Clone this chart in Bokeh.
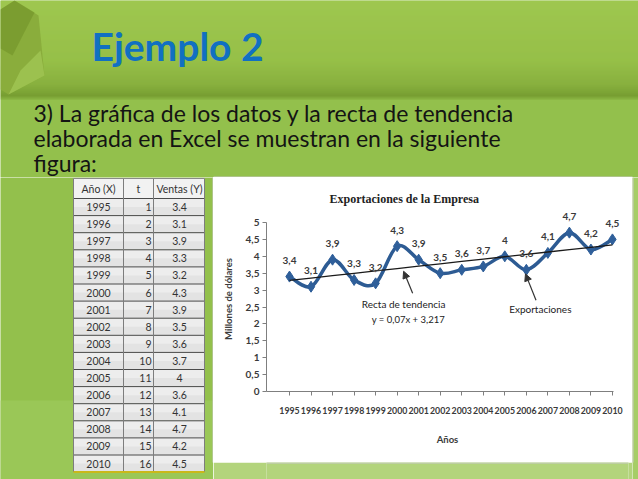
import numpy as np
from bokeh.plotting import figure
from bokeh.models import Range1d, FixedTicker, Label, Arrow, NormalHead, CustomJSTickFormatter
from bokeh.layouts import row, column
from bokeh.embed import file_html
from bokeh.resources import INLINE
from bokeh.core.properties import value

# ---------------- data ----------------
years = [1995, 1996, 1997, 1998, 1999, 2000, 2001, 2002,
         2003, 2004, 2005, 2006, 2007, 2008, 2009, 2010]
t_index = [1, 2, 3, 4, 5, 6, 7, 8, 9, 10, 11, 12, 13, 14, 15, 16]
ventas = [3.4, 3.1, 3.9, 3.3, 3.2, 4.3, 3.9, 3.5,
          3.6, 3.7, 4.0, 3.6, 4.1, 4.7, 4.2, 4.5]
y_ticks = [0, 0.5, 1, 1.5, 2, 2.5, 3, 3.5, 4, 4.5, 5]
trend_slope = 0.07
trend_intercept = 3.217
table_headers = ["Año (X)", "t", "Ventas (Y)"]
slide_title = "Ejemplo 2"
paragraph = ["3) La gráfica de los datos y la recta de tendencia",
             "elaborada en Excel se muestran en la siguiente",
             "figura:"]
chart_title = "Exportaciones de la Empresa"
x_title = "Años"
y_title = "Millones de dólares"
trend_note = ["Recta de tendencia", "y = 0,07x + 3,217"]
series_note = "Exportaciones"

BODY = "#93c04c"
FONT = "Lato"


def blank(w, h, x0, x1, y0, y1, bg):
    f = figure(width=w, height=h, x_range=Range1d(x0, x1), y_range=Range1d(y0, y1),
               output_backend="svg", toolbar_location=None, min_border=0,
               x_axis_location=None, y_axis_location=None)
    f.xgrid.visible = False
    f.ygrid.visible = False
    f.outline_line_color = None
    f.background_fill_color = bg
    f.border_fill_color = bg
    return f


def mix(c1, c2, a):
    c1 = np.array([int(c1[i:i + 2], 16) for i in (1, 3, 5)])
    c2 = np.array([int(c2[i:i + 2], 16) for i in (1, 3, 5)])
    c = (c1 + (c2 - c1) * a).round().astype(int)
    return "#%02x%02x%02x" % tuple(c)


# ---------------- header (banner + paragraph) ----------------
H_HEAD = 177
head = blank(638, H_HEAD, 0, 638, H_HEAD, 0, BODY)
stops = [(0, "#a2c951"), (60, "#97bf47"), (84, "#84aa3a"), (95, "#6f9229"), (99, "#8ab543")]
ys, cs = [], []
for (ya, ca), (yb, cb) in zip(stops[:-1], stops[1:]):
    n = max(int(yb - ya), 1)
    for k in range(n):
        ys.append(ya + (yb - ya) * k / n)
        cs.append(mix(ca, cb, k / n))
ys.append(99)
head.quad(left=0, right=638, top=ys[:-1], bottom=ys[1:], fill_color=cs, line_color=None)
# hexagon ornament
head.patch([0, 14, 38, 44, 8, 0], [9, 0, 15, 75, 94, 89], fill_color="#8aad3c", line_color=None)
head.patch([0, 14, 34, 12, 0], [9, 0, 12, 55, 48], fill_color="#6f8f27", line_color=None, fill_alpha=0.55)
head.patch([44, 8, 20, 40], [75, 94, 70, 50], fill_color="#a9cf5c", line_color=None, fill_alpha=0.6)
head.text(x=[91], y=[45], text=[slide_title], text_font=value(FONT),
          text_font_style="bold", text_font_size="39px", text_color="#1170c2",
          text_baseline="alphabetic")
head.text(x=[33, 33, 33], y=[112, 137, 162], text=paragraph, text_font=value(FONT),
          text_font_size="23px", text_color="#141414", text_baseline="middle")
head.segment(x0=[213], y0=[176.5], x1=[632], y1=[176.5], line_color="#c8c8c8", line_width=1)

# ---------------- table ----------------
H_ROW = 302
tab = blank(213, H_ROW, 0, 213, 479, 177, BODY)
tab.quad(left=0, right=213, top=400, bottom=479, fill_color="#9ac757", line_color=None)
col_x = [73, 123, 153, 204]
top0, head_h, row_h = 178, 20, 17.1
n = len(years)
row_top = [top0 + head_h + i * row_h for i in range(n)]
row_bot = [v + row_h for v in row_top]
row_mid = [v + row_h / 2 for v in row_top]
tab.quad(left=col_x[0], right=col_x[-1], top=top0, bottom=top0 + head_h, fill_color="#f2f2f2", line_color=None)
tab.quad(left=col_x[0], right=col_x[-1], top=row_top, bottom=row_bot, fill_color="#e3e3e3", line_color=None)
tab.quad(left=col_x[0], right=col_x[-1], top=row_top, bottom=row_mid, fill_color="#ededed", line_color=None)
tab.segment(x0=col_x[0], x1=col_x[-1], y0=[top0 + head_h] + row_bot[:-1], y1=[top0 + head_h] + row_bot[:-1],
            line_color="#4a4a4a", line_width=1)
tab.segment(x0=col_x, x1=col_x, y0=top0, y1=row_bot[-1], line_color="#7d7d7d", line_width=1)
tab.segment(x0=[col_x[0]], x1=[col_x[-1]], y0=[top0], y1=[top0], line_color="#8a8a8a", line_width=1)
tab.segment(x0=[col_x[0]], x1=[col_x[-1]], y0=[row_bot[-1]], y1=[row_bot[-1]], line_color="#c9b81a", line_width=2)
tab.text(x=[98, 138, 179], y=[top0 + head_h / 2] * 3, text=table_headers, text_font=value(FONT),
         text_font_size="10.5px", text_color="#333333", text_align="center", text_baseline="middle")
tab.text(x=[98] * n, y=row_mid, text=[str(v) for v in years], text_font=value(FONT),
         text_font_size="10.5px", text_color="#333333", text_align="center", text_baseline="middle")
tab.text(x=[151] * n, y=row_mid, text=[str(v) for v in t_index], text_font=value(FONT),
         text_font_size="10.5px", text_color="#333333", text_align="right", text_baseline="middle")
tab.text(x=[179] * n, y=row_mid, text=[("%g" % v) for v in ventas], text_font=value(FONT),
         text_font_size="10.5px", text_color="#333333", text_align="center", text_baseline="middle")
tab.segment(x0=[212.5], x1=[212.5], y0=[177], y1=[462], line_color="#c8c8c8", line_width=1)

# ---------------- chart ----------------
px_year = 21.53
px_unit = 33.8
x_start = years[0] - 23 / px_year
x_end = years[-1] + 339 / px_year - (years[-1] - years[0])
y_end = 185 / px_unit
p = figure(width=419, height=285, x_range=Range1d(x_start, x_end), y_range=Range1d(0, y_end),
           output_backend="svg", toolbar_location=None,
           min_border_left=53, min_border_right=4, min_border_top=29, min_border_bottom=71)
p.background_fill_color = "white"
p.border_fill_color = "white"
p.outline_line_color = None
p.xgrid.visible = False
p.ygrid.visible = False

p.title.text = chart_title
p.title.align = "left"
p.title.offset = 63
p.title.text_font = "Liberation Serif"
p.title.text_font_style = "bold"
p.title.text_font_size = "12px"
p.title.text_color = "#222222"
p.title.standoff = 2

for ax in (p.xaxis[0], p.yaxis[0]):
    ax.axis_line_color = "#7f7f7f"
    ax.major_tick_line_color = "#7f7f7f"
    ax.major_tick_out = 4
    ax.major_tick_in = 0
    ax.minor_tick_line_color = None
    ax.major_label_text_font = FONT
    ax.major_label_text_font_style = "bold"
    ax.major_label_text_color = "#3a3a3a"
    ax.axis_label_text_font = FONT
    ax.axis_label_text_font_style = "bold"
    ax.axis_label_text_font_size = "9.5px"
    ax.axis_label_text_color = "#3a3a3a"

p.yaxis.ticker = FixedTicker(ticks=y_ticks)
p.yaxis.formatter = CustomJSTickFormatter(code="return tick.toString().replace('.', ',');")
p.yaxis.bounds = (0, 5)
p.yaxis.major_label_text_font_size = "10px"
p.yaxis.major_label_standoff = 3
p.yaxis.axis_label = y_title
p.yaxis.axis_label_standoff = 9

p.xaxis.ticker = FixedTicker(ticks=years)
p.xaxis.bounds = (x_start, years[-1] + 0.05)
p.xaxis.major_label_text_font_size = "8.8px"
p.xaxis.major_label_standoff = 11
p.xaxis.axis_label = x_title
p.xaxis.axis_label_standoff = 17

# trend line from the Excel equation y = 0.07 t + 3.217
t_arr = np.array(t_index, dtype=float)
trend = trend_slope * t_arr + trend_intercept

# smoothed series (Bezier through the data points)
xs = np.array(years, dtype=float)
yv = np.array(ventas, dtype=float)
xp = np.concatenate([[xs[0]], xs, [xs[-1]]])
yp = np.concatenate([[yv[0]], yv, [yv[-1]]])
cx0 = xs[:-1] + (xp[2:-1] - xp[:-3]) / 6
cy0 = yv[:-1] + (yp[2:-1] - yp[:-3]) / 6
cx1 = xs[1:] - (xp[3:] - xp[1:-2]) / 6
cy1 = yv[1:] - (yp[3:] - yp[1:-2]) / 6
p.bezier(x0=xs[:-1], y0=yv[:-1], x1=xs[1:], y1=yv[1:], cx0=cx0, cy0=cy0, cx1=cx1, cy1=cy1,
         line_color="#2d5b93", line_width=3.5)
p.scatter(x=years, y=ventas, marker="diamond", size=11, fill_color="#2f5f9a", line_color="#2f5f9a")
p.line(x=years, y=trend, line_color="#1a1a1a", line_width=1.3)

p.text(x=years, y=ventas, text=[("%g" % v).replace(".", ",") for v in ventas], y_offset=-16,
       text_align="center", text_baseline="middle", text_font=value(FONT), text_font_style="bold",
       text_font_size="10px", text_color="#3a3a3a")

# annotations
k = 5  # arrow to the trend line near 2000
tx = years[k] + 0.3
ty = trend_slope * (t_index[k] + 0.3) + trend_intercept
p.add_layout(Arrow(end=NormalHead(size=7, fill_color="#333333", line_color="#333333"),
                   x_start=tx + 0.42, y_start=ty - 0.75, x_end=tx, y_end=ty - 0.1,
                   line_color="#333333", line_width=1.2))
p.add_layout(Label(x=tx, y=ty - 1.08, text=trend_note[0], text_align="center", text_baseline="middle",
                   text_font=FONT, text_font_size="10px", text_color="#222222"))
p.add_layout(Label(x=tx + 0.22, y=ty - 1.53, text=trend_note[1], text_align="center", text_baseline="middle",
                   text_font=FONT, text_font_size="9.5px", text_color="#222222"))
j = 11  # arrow to the 2006 point
p.add_layout(Arrow(end=NormalHead(size=7, fill_color="#333333", line_color="#333333"),
                   x_start=years[j] + 0.45, y_start=ventas[j] - 0.9, x_end=years[j] - 0.04, y_end=ventas[j] - 0.12,
                   line_color="#333333", line_width=1.2))
p.add_layout(Label(x=years[j] + 0.65, y=ventas[j] - 1.17, text=series_note, text_align="center",
                   text_baseline="middle", text_font=FONT, text_font_size="10px", text_color="#222222"))

# ---------------- fillers ----------------
bottom = blank(419, 17, 0, 419, 17, 0, "#b3d47c")
bottom.segment(x0=[0], x1=[419], y0=[0.5], y1=[0.5], line_color="#c8c8c8", line_width=1)
right = blank(6, H_ROW, 0, 6, H_ROW, 0, "#a6cd66")
right.segment(x0=[0.5], x1=[0.5], y0=[0], y1=[285], line_color="#c8c8c8", line_width=1)

layout = column(head, row(tab, column(p, bottom, spacing=0), right, spacing=0), spacing=0)

with open("out.html", "w") as fh:
    fh.write(file_html(layout, INLINE))
